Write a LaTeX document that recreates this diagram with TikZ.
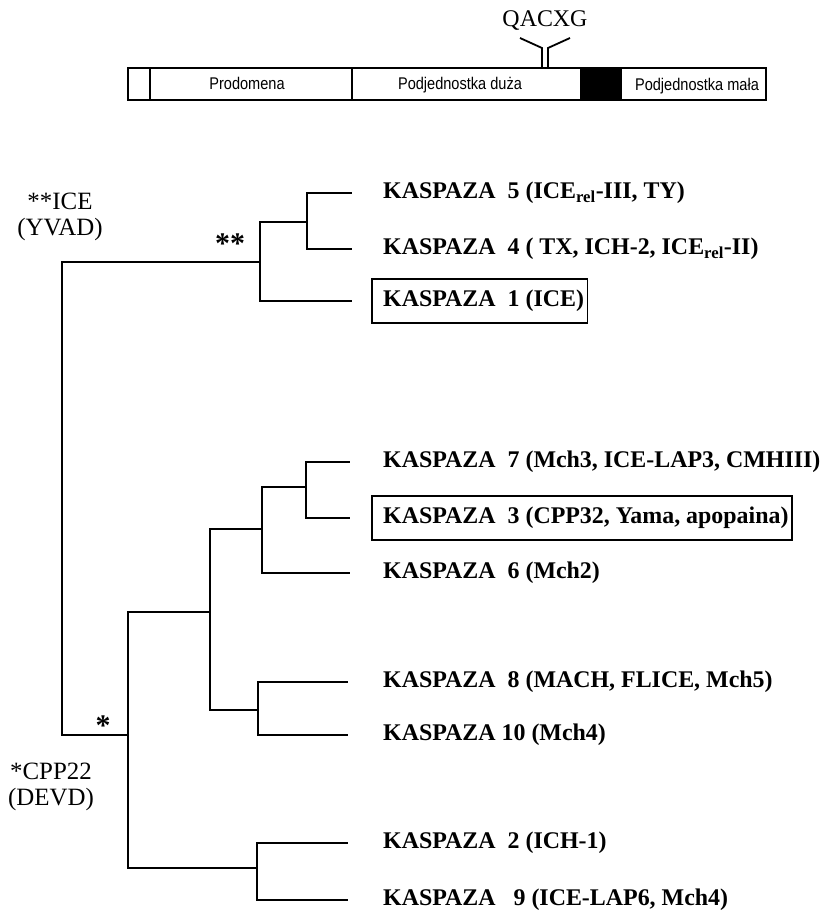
\documentclass[tikz,border=0pt]{standalone}
\usepackage{fontspec}
\setmainfont{Liberation Serif}
\newfontfamily\barfont[FakeStretch=0.86]{Liberation Sans}
\usetikzlibrary{positioning,calc}
\tikzset{
  branch/.style={line width=1.8bp},
  leaflbl/.style={font=\bfseries\fontsize{24}{28}\selectfont,inner sep=0pt,anchor=west},
  grouplbl/.style={font=\fontsize{25}{26}\selectfont,align=center,inner sep=0pt},
  domainlbl/.style={font=\barfont\fontsize{17}{17}\selectfont,inner sep=0pt,anchor=base},
  starlbl/.style={font=\bfseries\fontsize{30}{30}\selectfont,inner sep=0pt},
  markbox/.style={line width=1.4bp}
}
\begin{document}
\begin{tikzpicture}[x=1bp,y=-1bp]
  \useasboundingbox (0,0) rectangle (832,915);
  % domain bar
  \draw[line width=2bp] (128,68) rectangle (766,100);
  \draw[line width=2bp] (150,68) -- (150,100);
  \draw[line width=2bp] (352,68) -- (352,100);
  \fill (580,68) rectangle (622,100);
  \node[domainlbl] (prodom) at (247,89) {Prodomena};
  \node[domainlbl] (large) at (460,89) {Podjednostka duża};
  \node[domainlbl] (small) at (697,90) {Podjednostka mała};
  \node[font=\fontsize{24}{24}\selectfont,inner sep=0pt] (motif) at (545,21) {QACXG};
  \draw[line width=1.8bp] (520,38) -- (542,48) -- (542,68);
  \draw[line width=1.8bp] (570,38) -- (548,48) -- (548,68);

  % tree junctions
  \coordinate (r1) at (62,262);
  \coordinate (r2) at (62,735);
  \coordinate (a)  at (260,262);
  \coordinate (a1) at (307,222);
  \coordinate (b)  at (128,735);
  \coordinate (c)  at (210,612);
  \coordinate (d)  at (257,868);
  \coordinate (f)  at (262,529);
  \coordinate (g)  at (258,710);
  \coordinate (h)  at (306,487);
  % leaf ends
  \coordinate (e5)  at (352,193);
  \coordinate (e4)  at (352,249);
  \coordinate (e1)  at (352,301);
  \coordinate (e7)  at (350,462);
  \coordinate (e3)  at (350,518);
  \coordinate (e6)  at (350,573);
  \coordinate (e8)  at (348,682);
  \coordinate (e10) at (348,735);
  \coordinate (e2)  at (348,843);
  \coordinate (e9)  at (348,900);

  \draw[branch] (a) -- (r1) -- (r2) -- (b);
  \draw[branch] (a) |- (a1);
  \draw[branch] (a) |- (e1);
  \draw[branch] (a1) |- (e5);
  \draw[branch] (a1) |- (e4);
  \draw[branch] (b) |- (c);
  \draw[branch] (b) |- (d);
  \draw[branch] (c) |- (f);
  \draw[branch] (c) |- (g);
  \draw[branch] (f) |- (h);
  \draw[branch] (f) |- (e6);
  \draw[branch] (h) |- (e7);
  \draw[branch] (h) |- (e3);
  \draw[branch] (g) |- (e8);
  \draw[branch] (g) |- (e10);
  \draw[branch] (d) |- (e2);
  \draw[branch] (d) |- (e9);

  % caspase labels
  \node[leaflbl,right=31bp of e5] (k5) {KASPAZA\ \ 5 (ICE\textsubscript{rel}-III, TY)};
  \node[leaflbl,right=31bp of e4] (k4) {KASPAZA\ \ 4 (\ TX, ICH-2, ICE\textsubscript{rel}-II)};
  \node[leaflbl,right=31bp of e1] (k1) {KASPAZA\ \ 1 (ICE)};
  \node[leaflbl,right=33bp of e7] (k7) {KASPAZA\ \ 7 (Mch3, ICE-LAP3, CMHIII)};
  \node[leaflbl,right=33bp of e3] (k3) {KASPAZA\ \ 3 (CPP32, Yama, apopaina)};
  \node[leaflbl,right=33bp of e6] (k6) {KASPAZA\ \ 6 (Mch2)};
  \node[leaflbl,right=35bp of e8] (k8) {KASPAZA\ \ 8 (MACH, FLICE, Mch5)};
  \node[leaflbl,right=35bp of e10] (k10) {KASPAZA 10 (Mch4)};
  \node[leaflbl,right=35bp of e2] (k2) {KASPAZA\ \ 2 (ICH-1)};
  \node[leaflbl,right=35bp of e9] (k9) {KASPAZA\ \ \ 9 (ICE-LAP6, Mch4)};
  \draw[markbox] ($(k1.north west)+(-11,-11)$) rectangle ($(k1.south east)+(3,11)$);
  \draw[markbox] ($(k3.north west)+(-11,-11)$) rectangle ($(k3.south east)+(3,11)$);

  % group labels
  \node[grouplbl] (ice) at (60,217) {**ICE\\(YVAD)};
  \node[grouplbl] (cpp) at (51,787) {*CPP22\\(DEVD)};
  \node[starlbl] (st2) at (230,244) {**};
  \node[starlbl] (st1) at (103,726) {*};
\end{tikzpicture}
\end{document}
